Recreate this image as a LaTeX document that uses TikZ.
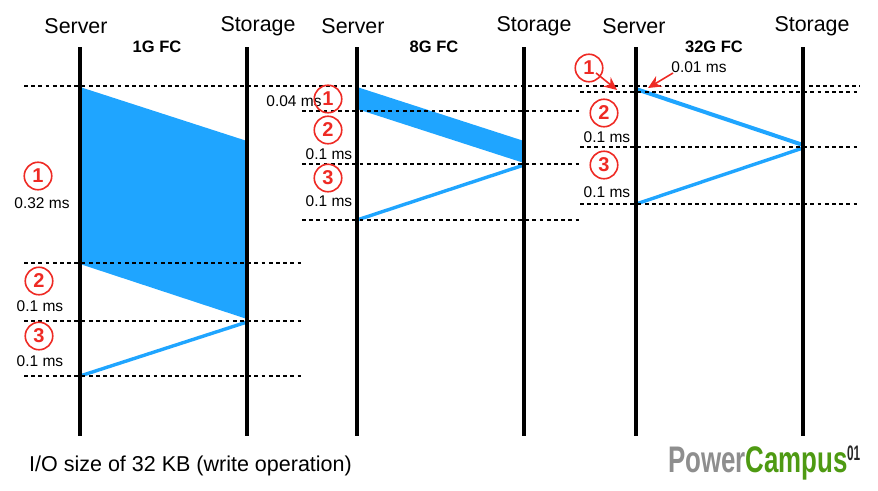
\documentclass[tikz,border=0pt]{standalone}
\usepackage{fontspec}
\setmainfont{Liberation Sans}
\usetikzlibrary{arrows.meta}
\definecolor{flow}{HTML}{1FA5FF}
\definecolor{mark}{HTML}{EE2A24}
\definecolor{pgray}{HTML}{8E8E8E}
\definecolor{pgreen}{HTML}{4E9A12}
\tikzset{
  x=1pt,y=-1pt,
  axis/.style={draw=black,line width=4pt},
  guide/.style={draw=black,line width=1.4pt,dash pattern=on 3.8pt off 3.4pt},
  head/.style={font=\fontsize{21.4}{21.4}\selectfont,inner sep=0pt},
  title/.style={font=\bfseries\fontsize{16.5}{16.5}\selectfont,inner sep=0pt},
  ms/.style={font=\fontsize{15.5}{15.5}\selectfont,inner sep=0pt},
  num/.style={circle,draw=mark,line width=1.6pt,text=mark,minimum size=27.5pt,inner sep=0pt,font=\bfseries\fontsize{20}{20}\selectfont},
  burst/.style={fill=flow,draw=none},
  pointer/.style={draw=mark,line width=1.6pt,-{Stealth[length=13pt,width=12pt]}},
}
\begin{document}
\begin{tikzpicture}
\useasboundingbox (0,0) rectangle (878,490);
% coordinates
\foreach \n/\x in {a/80,b/247,c/357,d/524,e/636,f/803}{
  \coordinate (\n t) at (\x,47);
  \coordinate (\n b) at (\x,436);
}
% flows
\coordinate (p1) at (80,87); \coordinate (p2) at (247,141); \coordinate (p3) at (247,319); \coordinate (p4) at (80,264); \coordinate (p5) at (80,376);
\fill[burst] (p1) -- (p2) -- (p3) -- (p4) -- cycle;
\coordinate (p6) at (247,322);
\draw[flow,line width=3.4pt] (p6) -- (p5);
\coordinate (q1) at (357,87); \coordinate (q2) at (524,141); \coordinate (q3) at (524,163); \coordinate (q4) at (357,109); \coordinate (q5) at (357,220);
\fill[burst] (q1) -- (q2) -- (q3) -- (q4) -- cycle;
\coordinate (q6) at (524,165);
\draw[flow,line width=3.4pt] (q6) -- (q5);
\coordinate (r1) at (636,89); \coordinate (r2) at (803,145); \coordinate (r4) at (803,148); \coordinate (r3) at (636,204);
\draw[flow,line width=4pt] (r1) -- (r2);
\draw[flow,line width=3.4pt] (r4) -- (r3);
% axes
\foreach \n in {a,b,c,d,e,f}{ \draw[axis] (\n t) -- (\n b); }
% guides
\foreach \n/\xa/\xb/\y in {g1/24/860/86,g2/24/302/263,g3/24/302/321,g4/24/302/376,g5/302/580/111,g6/302/580/164,g7/302/580/220,g9/580/860/92,g10/580/860/147,g11/580/860/204}{
  \coordinate (\n s) at (\xa,\y);
  \coordinate (\n e) at (\xb,\y);
  \draw[guide] (\n s) -- (\n e);
}
% headers
\node[head] (s1) at (76,26) {Server};
\node[head] (t1) at (258,26) {Storage};
\node[head] (s2) at (353,26) {Server};
\node[head] (t2) at (534,26) {Storage};
\node[head] (s3) at (634,26) {Server};
\node[head] (t3) at (812,26) {Storage};
\node[title] (h1) at (157,47) {1G FC};
\node[title] (h2) at (434,47) {8G FC};
\node[title] (h3) at (714,47) {32G FC};
% 1G labels
\node[num] (n11) at (38,176) {1};
\node[ms] (l11) at (42,203) {0.32 ms};
\node[num] (n12) at (39,281) {2};
\node[ms] (l12) at (40,306) {0.1 ms};
\node[num] (n13) at (39,336) {3};
\node[ms] (l13) at (40,361) {0.1 ms};
% 8G labels
\node[ms] (l21) at (294,101) {0.04 ms};
\node[num] (n21) at (328,99) {1};
\node[num] (n22) at (328,130) {2};
\node[ms] (l22) at (329,154) {0.1 ms};
\node[num] (n23) at (328,178) {3};
\node[ms] (l23) at (329,201) {0.1 ms};
% 32G labels
\node[num] (n31) at (589,68) {1};
\node[ms] (l31) at (699,67) {0.01 ms};
\node[num] (n32) at (604,113) {2};
\node[ms] (l32) at (607,137) {0.1 ms};
\node[num] (n33) at (604,165) {3};
\node[ms] (l33) at (607,192) {0.1 ms};
\coordinate (a0) at (596,73);
\coordinate (a1) at (617,90);
\coordinate (b0) at (673,73);
\coordinate (b1) at (648,88);
\draw[pointer] (a0) -- (a1);
\draw[pointer] (b0) -- (b1);
% footer
\node[inner sep=0pt,anchor=west,font=\fontsize{21.5}{21.5}\selectfont] (cap) at (29,466) {I/O size of 32 KB (write operation)};
\node[inner sep=0pt,anchor=base west,font=\bfseries\fontsize{37}{37}\selectfont,xscale=0.7] (logo) at (668,472) {\textcolor{pgray}{Power}\textcolor{pgreen}{Campus}};
\node[inner sep=0pt,anchor=base west,font=\bfseries\fontsize{21}{21}\selectfont,xscale=0.56,text=black!85] (logon) at (847,460) {01};
\end{tikzpicture}
\end{document}
